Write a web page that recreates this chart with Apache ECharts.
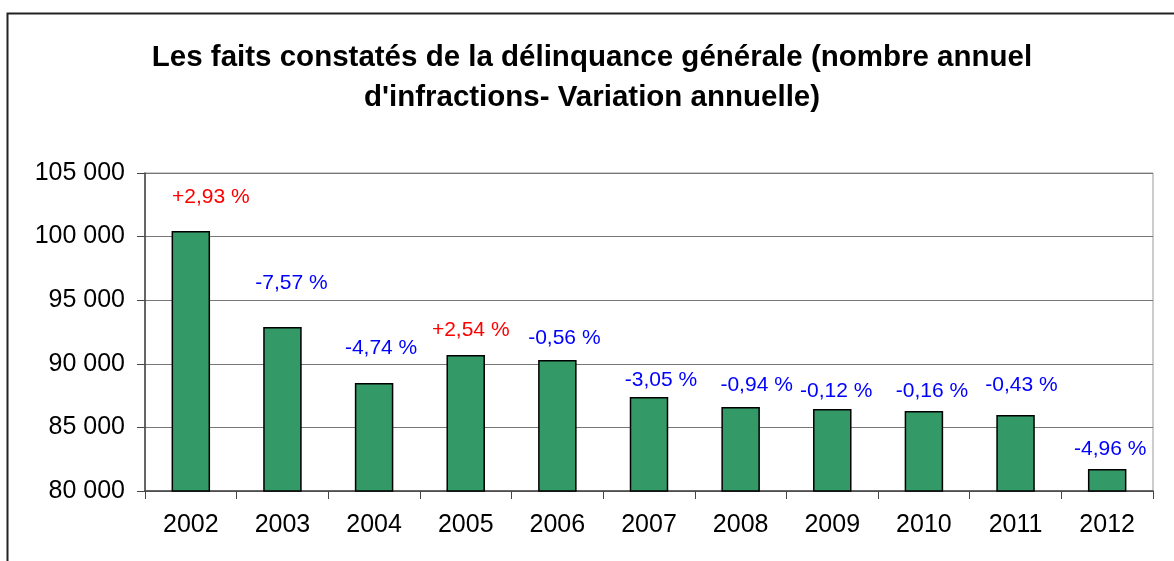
<!DOCTYPE html>
<html>
<head>
<meta charset="utf-8">
<script src="https://cdn.jsdelivr.net/npm/echarts@6/dist/echarts.min.js"></script>
<style>
  html, body { margin: 0; padding: 0; background: #fff; }
  #chart { width: 1174px; height: 561px; }
</style>
</head>
<body>
<div id="chart"></div>
<script>
// annees et nombre de faits constatés
var years = ['2002', '2003', '2004', '2005', '2006', '2007', '2008', '2009', '2010', '2011', '2012'];
var faits = [100440, 92890, 88490, 90690, 90300, 87390, 86600, 86450, 86290, 85975, 81730];
// variation annuelle (texte affiché au-dessus des barres)
var variations = ['+2,93 %', '-7,57 %', '-4,74 %', '+2,54 %', '-0,56 %', '-3,05 %', '-0,94 %', '-0,12 %', '-0,16 %', '-0,43 %', '-4,96 %'];

// placement des étiquettes (décalage x, hauteur au-dessus de la barre), pas des données
var labelShift = [20, 9, 7, 5, 7, 12, 16, 4, 8, 6, 3];
var labelRise = [34, 44, 35, 25, 22, 17, 22, 18, 20, 30, 20];

var chart = echarts.init(document.getElementById('chart'));

var barData = faits.map(function (v, i) {
    var up = variations[i].charAt(0) === '+';
    return {
        value: v,
        label: {
            formatter: variations[i],
            color: up ? '#ff0000' : '#0000ff',
            offset: [labelShift[i], -(labelRise[i] - 10)]
        }
    };
});

function sepMilliers(v) {
    return String(v).replace(/\B(?=(\d{3})+(?!\d))/g, ' ');
}

var option = {
    animation: false,
    backgroundColor: '#fff',
    textStyle: { fontFamily: 'Liberation Sans, Arial, sans-serif' },
    title: {
        text: 'Les faits constatés de la délinquance générale (nombre annuel\nd\'infractions- Variation annuelle)',
        left: 587,
        textAlign: 'center',
        top: 33,
        textStyle: {
            fontSize: 29.5,
            fontWeight: 'bold',
            color: '#000',
            lineHeight: 40,
            fontFamily: 'Liberation Sans, Arial, sans-serif'
        }
    },
    graphic: [{
        type: 'rect',
        shape: { x: 7.5, y: 13.5, width: 1200, height: 600 },
        style: { fill: 'none', stroke: '#222', lineWidth: 2 },
        silent: true
    }],
    grid: {
        left: 145, right: 21, top: 173, bottom: 70,
        show: true, borderColor: '#9a9a9a', borderWidth: 1
    },
    xAxis: {
        type: 'category',
        data: years,
        axisLine: { lineStyle: { color: '#444', width: 1.5 } },
        axisTick: { show: true, interval: 0, length: 8, lineStyle: { color: '#444' } },
        axisLabel: { color: '#000', fontSize: 25, margin: 22 }
    },
    yAxis: {
        type: 'value',
        min: 80000, max: 105000, interval: 5000,
        axisLine: { show: true, lineStyle: { color: '#444', width: 1.5 } },
        axisTick: { show: true, length: 8, lineStyle: { color: '#444' } },
        splitLine: { lineStyle: { color: '#777', width: 1 } },
        axisLabel: { color: '#000', fontSize: 25, margin: 20, formatter: sepMilliers }
    },
    series: [{
        type: 'bar',
        data: barData,
        barWidth: '42%',
        itemStyle: { color: '#339966', borderColor: '#000', borderWidth: 1.5 },
        label: {
            show: true,
            position: 'top',
            distance: 0,
            fontSize: 21,
            lineHeight: 20
        }
    }]
};

chart.setOption(option);
</script>
</body>
</html>
